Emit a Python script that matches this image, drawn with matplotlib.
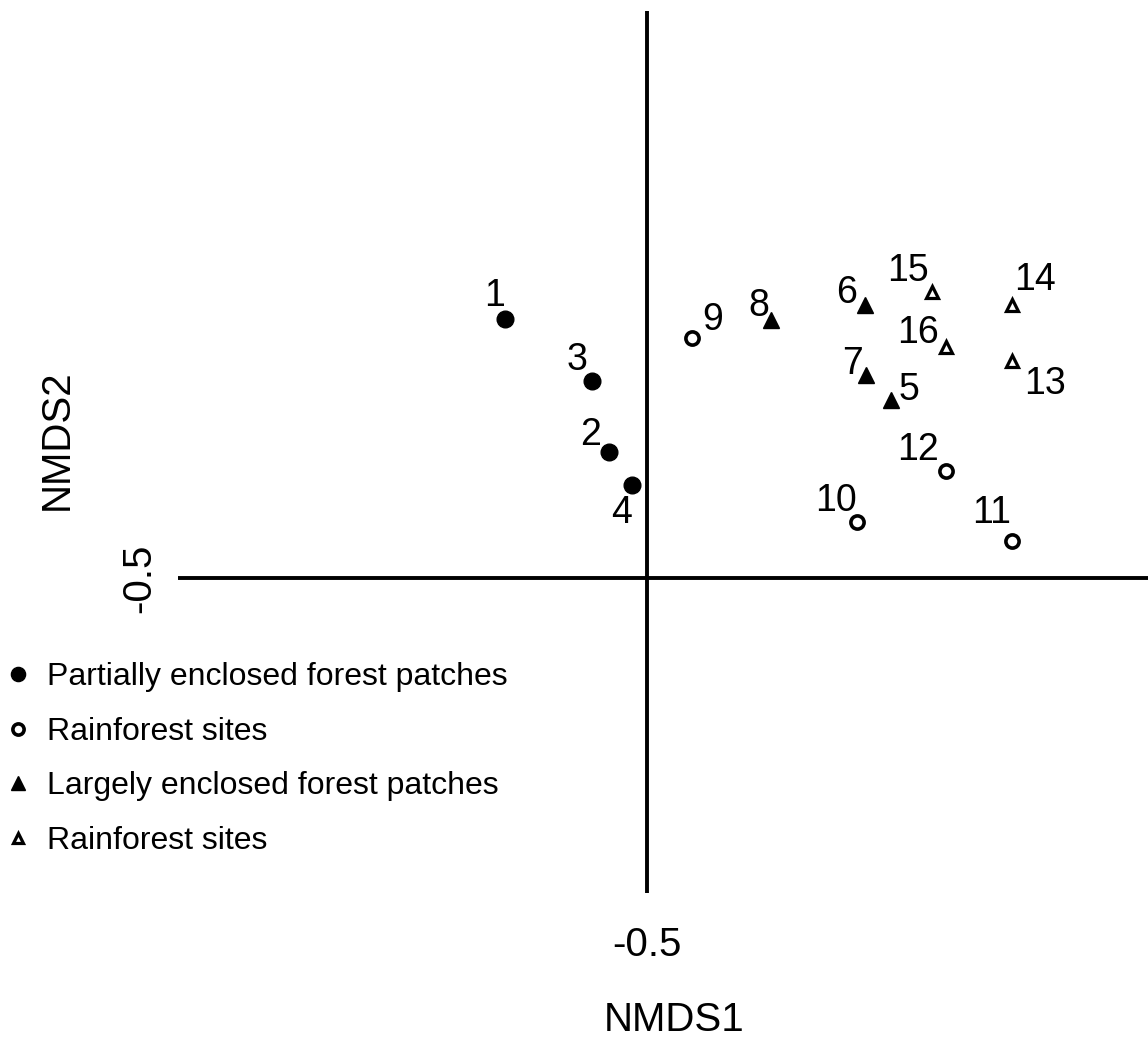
import matplotlib
matplotlib.use("Agg")
import matplotlib.pyplot as plt
from matplotlib.lines import Line2D

plt.rcParams['font.family'] = ['Liberation Sans', 'DejaVu Sans']

# site scores (NMDS1, NMDS2)
sites = [1, 2, 3, 4, 5, 6, 7, 8, 9, 10, 11, 12, 13, 14, 15, 16]
nmds1 = [-0.784, -0.576, -0.610, -0.530, -0.012, -0.064, -0.062, -0.252,
         -0.410, -0.080, 0.230, 0.098, 0.230, 0.230, 0.070, 0.098]
nmds2 = [0.018, -0.248, -0.106, -0.314, -0.144, 0.046, -0.094, 0.016,
         -0.020, -0.388, -0.426, -0.286, -0.066, 0.046, 0.072, -0.038]
group = [0, 0, 0, 0, 2, 2, 2, 2, 1, 1, 1, 1, 3, 3, 3, 3]
group_names = ['Partially enclosed forest patches', 'Rainforest sites',
               'Largely enclosed forest patches', 'Rainforest sites']

# marker style per group
styles = [
    dict(marker='o', ms=12, mfc='black', mec='black', mew=1),
    dict(marker='o', ms=9.5, mfc='white', mec='black', mew=2.6),
    dict(marker='^', ms=12, mfc='black', mec='black', mew=1),
    dict(marker='^', ms=9, mfc='white', mec='black', mew=2.3),
]

# label offsets in pixels (dx right, dy down) from each point to the label centre
label_off = {1: (-10, -26), 2: (-18, -20), 3: (-15, -24), 4: (-10, 25),
             5: (18, -13), 6: (-18, -15), 7: (-13, -14), 8: (-12, -17),
             9: (21, -21), 10: (-21, -24), 11: (-20, -31), 12: (-28, -24),
             13: (33, 20), 14: (23, -28), 15: (-24, -24), 16: (-28, -17)}

W, H = 1148, 1044
fig = plt.figure(figsize=(W / 100, H / 100), dpi=100)
ax = fig.add_axes([178 / W, 1 - 893 / H, (W - 178) / W, (893 - 11) / H])

ax.set_xlim(-1.438, 0.502)
ax.set_ylim(-1.13, 0.634)

for s in ax.spines.values():
    s.set_visible(False)
ax.axvline(-0.5, color='black', lw=2.8)
ax.axhline(-0.5, color='black', lw=2.8)

for g, st in enumerate(styles):
    xs = [x for x, gg in zip(nmds1, group) if gg == g]
    ys = [y for y, gg in zip(nmds2, group) if gg == g]
    ax.plot(xs, ys, ls='none', zorder=3, **st)

for n, x, y in zip(sites, nmds1, nmds2):
    dx, dy = label_off[n]
    ax.annotate(str(n), (x, y), xytext=(dx, -dy - 13), textcoords='offset pixels',
                ha='center', va='baseline', fontsize=27)

ax.set_xticks([-0.5])
ax.set_yticks([-0.5])
ax.set_xticklabels(['-0.5'])
ax.set_yticklabels(['-0.5'], rotation=90, va='center')
ax.tick_params(length=0, labelsize=29)
ax.tick_params(axis='x', pad=24)
ax.tick_params(axis='y', pad=14)

ax.set_xlabel('NMDS1', fontsize=29)
ax.set_ylabel('NMDS2', fontsize=29)
ax.xaxis.set_label_coords((674 - 178) / (W - 178), (893 - 1020) / (893 - 11))
ax.yaxis.set_label_coords((57 - 178) / (W - 178), (893 - 440) / (893 - 11))
ax.xaxis.label.set_va('center')
ax.yaxis.label.set_va('center')

handles = [Line2D([], [], ls='none', **dict(st, ms=st['ms'] * 0.85)) for st in styles]
ax.legend(handles, group_names, loc='center left',
          bbox_to_anchor=(5 / W, 1 - 759 / H), bbox_transform=fig.transFigure,
          frameon=False, fontsize=23, borderpad=0, borderaxespad=0,
          handlelength=0.8, handletextpad=0.5, labelspacing=0.77)

fig.savefig('out.png', dpi=100)
